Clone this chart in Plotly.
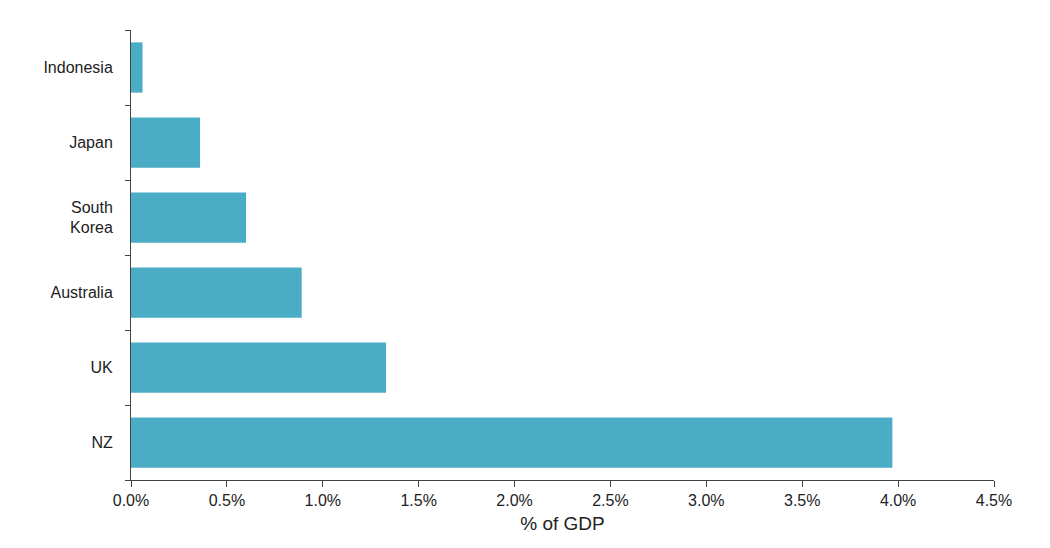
import plotly.graph_objects as go

# Donnees
countries = ["NZ", "UK", "Australia", "South<br>Korea", "Japan", "Indonesia"]
values = [3.97, 1.33, 0.89, 0.60, 0.36, 0.06]
x_ticks = [0, 0.5, 1.0, 1.5, 2.0, 2.5, 3.0, 3.5, 4.0, 4.5]
x_labels = ["0.0%", "0.5%", "1.0%", "1.5%", "2.0%", "2.5%", "3.0%", "3.5%", "4.0%", "4.5%"]

fig = go.Figure(go.Bar(
    x=values, y=countries, orientation="h",
    marker=dict(color="#4BACC6", line=dict(width=0)),
    hoverinfo="skip"))

fig.update_layout(
    width=1050, height=548,
    margin=dict(l=123, r=64, t=22, b=76),
    plot_bgcolor="white", paper_bgcolor="white",
    font=dict(family="Liberation Sans, Arial", size=16, color="#222222"),
    bargap=0.33, showlegend=False)

fig.update_xaxes(
    range=[0, 4.5], tickvals=x_ticks, ticktext=x_labels,
    showgrid=False, zeroline=False,
    showline=True, linecolor="#444444", linewidth=1,
    ticks="outside", ticklen=6, tickcolor="#444444",
    title=dict(text="% of GDP", standoff=8))

fig.update_yaxes(
    showgrid=False, zeroline=False,
    showline=True, linecolor="#444444", linewidth=1,
    ticks="outside", tickson="boundaries", ticklen=5, tickcolor="#444444",
    ticklabelstandoff=14)

fig.write_html("out.html")
